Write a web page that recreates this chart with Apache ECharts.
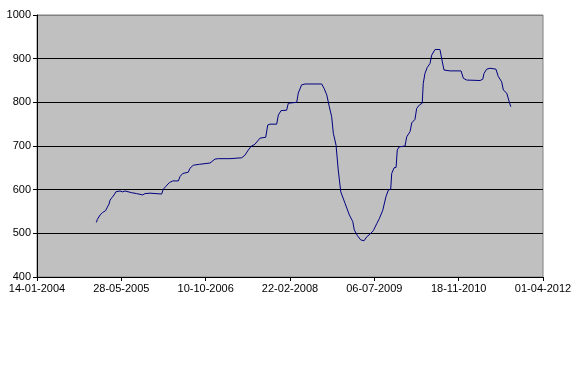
<!DOCTYPE html>
<html>
<head>
<meta charset="utf-8">
<script src="https://cdn.jsdelivr.net/npm/echarts@6/dist/echarts.min.js"></script>
<style>
html,body{margin:0;padding:0;background:#fff;}
#chart{width:579px;height:370px;}
</style>
</head>
<body>
<div id="chart"></div>
<script>
// Dates as spreadsheet day serials (day 38000 = 14-01-2004)
var daySerials = [
  38352,38358,38374,38390,38407,38417,38427,38433,38445,38457,38467,38476,38492,38508,38522,38532,
  38562,38591,38627,38640,38670,38680,38739,38749,38765,38784,38805,38838,38848,38864,38897,38907,
  38927,38962,39026,39055,39075,39144,39214,39233,39253,39269,39292,39322,39356,39368,39381,39421,
  39431,39447,39480,39490,39540,39549,39569,39589,39688,39702,39718,39733,39747,39757,39773,39786,
  39801,39826,39852,39872,39881,39899,39919,39939,39955,39974,39994,40014,40030,40050,40069,40083,
  40097,40103,40117,40129,40136,40148,40182,40192,40212,40222,40241,40251,40267,40284,40290,40300,
  40314,40330,40340,40360,40389,40401,40413,40449,40514,40528,40548,40627,40643,40650,40666,40686,
  40721,40735,40755,40765,40785,40800,40809
];
var seriesValues = [
  525,532,542,548,552,560,567,576,582,588,595,599,597,595,597,594,
  593,591,588,591,592,590,590,601,608,616,620,620,630,637,640,649,
  656,658,661,670,671,671,673,679,691,699,704,718,720,748,750,750,
  771,781,782,798,800,821,840,842,842,832,817,790,767,729,702,645,
  595,569,542,527,508,495,485,483,492,498,506,522,534,553,584,599,
  601,637,650,651,691,698,700,721,733,753,761,786,794,798,843,866,
  880,889,908,921,921,897,874,872,872,855,851,850,853,866,876,878,
  876,859,847,828,821,801,790
];
var xTickSerials = [38000,38500,39000,39500,40000,40500,41000];
var yTicks = [400,500,600,700,800,900,1000];

function serialToLabel(s){
  var d = new Date(Date.UTC(1899,11,30) + Math.round(s)*86400000);
  var dd = String(d.getUTCDate()).padStart(2,'0');
  var mm = String(d.getUTCMonth()+1).padStart(2,'0');
  return dd + '-' + mm + '-' + d.getUTCFullYear();
}

var data = daySerials.map(function(s,i){ return [s, seriesValues[i]]; });
var chart = echarts.init(document.getElementById('chart'), null, {renderer:'canvas'});
var font = {fontFamily:'Liberation Sans, Arial, sans-serif', fontSize:11, color:'#000'};
chart.setOption({
  animation:false,
  backgroundColor:'#ffffff',
  grid:{left:37, top:15, right:36, bottom:93, show:true, backgroundColor:'#c0c0c0', borderColor:'#808080', borderWidth:1},
  xAxis:{
    type:'value', min:xTickSerials[0], max:xTickSerials[xTickSerials.length-1], interval:500,
    axisLine:{show:true, onZero:false, lineStyle:{color:'#000', width:1}},
    axisTick:{show:true, length:4, lineStyle:{color:'#000'}},
    splitLine:{show:false},
    axisLabel:Object.assign({margin:6, formatter:function(v){return serialToLabel(v);}, showMinLabel:true, showMaxLabel:true}, font)
  },
  yAxis:{
    type:'value', min:yTicks[0], max:yTicks[yTicks.length-1], interval:100,
    axisLine:{show:true, lineStyle:{color:'#000', width:1}},
    axisTick:{show:true, length:4, lineStyle:{color:'#000'}},
    splitLine:{show:true, lineStyle:{color:['#000','#000','#000','#000','#000','#000','#808080'], width:1}},
    axisLabel:Object.assign({margin:6, formatter:function(v){return String(v);}}, font)
  },
  series:[{
    type:'line', data:data, showSymbol:false, symbol:'none',
    lineStyle:{color:'#000080', width:1}, smooth:false
  }]
});
</script>
</body>
</html>
